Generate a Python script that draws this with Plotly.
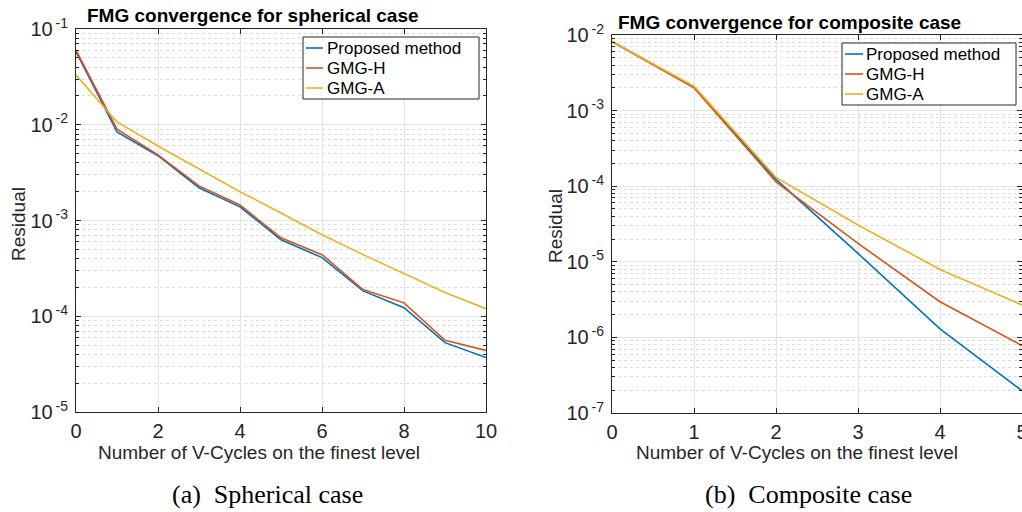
import plotly.graph_objects as go

# ---------------- data ----------------
cycles_sph = [0, 1, 2, 3, 4, 5, 6, 7, 8, 9, 10]
proposed_sph = [0.058, 8.4e-3, 4.75e-3, 2.2e-3, 1.39e-3, 6.3e-4, 4.1e-4, 1.84e-4, 1.23e-4, 5.3e-5, 3.7e-5]
gmgh_sph = [0.060, 9.0e-3, 4.85e-3, 2.3e-3, 1.45e-3, 6.6e-4, 4.4e-4, 1.9e-4, 1.38e-4, 5.6e-5, 4.4e-5]
gmga_sph = [0.033, 0.0107, 6.0e-3, 3.45e-3, 2.0e-3, 1.2e-3, 7.1e-4, 4.4e-4, 2.8e-4, 1.77e-4, 1.2e-4]

cycles_comp = [0, 1, 2, 3, 4, 5]
proposed_comp = [8.2e-3, 2.03e-3, 1.23e-4, 1.29e-5, 1.3e-6, 1.97e-7]
gmgh_comp = [8.2e-3, 2.0e-3, 1.14e-4, 1.75e-5, 2.96e-6, 7.8e-7]
gmga_comp = [8.2e-3, 2.1e-3, 1.31e-4, 3.07e-5, 7.9e-6, 2.69e-6]

series_names = ["Proposed method", "GMG-H", "GMG-A"]
colors = ["#0072BD", "#D95319", "#EDB120"]

xticks_sph = [0, 2, 4, 6, 8, 10]
xticks_comp = [0, 1, 2, 3, 4, 5]
exps_sph = [-5, -4, -3, -2, -1]
exps_comp = [-7, -6, -5, -4, -3, -2]

titles = ["FMG convergence for spherical case", "FMG convergence for composite case"]
captions = ["(a)\u00a0\u00a0Spherical case", "(b)\u00a0\u00a0Composite case"]
xlabel = "Number of V-Cycles on the finest level"
ylabel = "Residual"

# ---------------- figure ----------------
W, H = 1022, 512
TXT = "#262626"
FONT = "Liberation Sans, Arial, sans-serif"
SERIF = "Liberation Serif, Times New Roman, serif"

def px(x):
    return x / W

def py(y):
    return 1 - y / H

fig = go.Figure()

for name, col, ys in zip(series_names, colors, [proposed_sph, gmgh_sph, gmga_sph]):
    fig.add_trace(go.Scatter(x=cycles_sph, y=ys, mode="lines", name=name,
                             line=dict(color=col, width=1.6),
                             xaxis="x", yaxis="y", showlegend=False))
for name, col, ys in zip(series_names, colors, [proposed_comp, gmgh_comp, gmga_comp]):
    fig.add_trace(go.Scatter(x=cycles_comp, y=ys, mode="lines", name=name,
                             line=dict(color=col, width=1.6),
                             xaxis="x2", yaxis="y2", showlegend=False))

def minor_vals(exps):
    vals = []
    for e in exps[:-1]:
        for m in range(2, 10):
            vals.append(m * 10 ** e)
    return vals

def yaxis_cfg(exps, domain, anchor):
    return dict(
        type="log", domain=domain, anchor=anchor,
        range=[exps[0], exps[-1]],
        tickmode="array", tickvals=[10 ** e for e in exps],
        ticktext=["10<sup>\u2009%d</sup>" % e for e in exps],
        ticks="inside", ticklen=5, tickcolor=TXT,
        showline=True, linecolor=TXT, linewidth=1, mirror="ticks",
        showgrid=True, gridcolor="#e3e3e3", gridwidth=1,
        minor=dict(tickmode="array", tickvals=minor_vals(exps),
                   ticks="inside", ticklen=3, tickcolor=TXT,
                   showgrid=True, gridcolor="#dcdcdc", griddash="dot", gridwidth=1),
        tickfont=dict(family=FONT, size=20, color=TXT),
        ticklabelstandoff=3,
        ticklabeloverflow="allow",
        automargin=False,
        zeroline=False,
    )

def xaxis_cfg(rng, ticks, domain, anchor):
    return dict(
        domain=domain, anchor=anchor, range=rng,
        tickmode="array", tickvals=ticks, ticktext=[str(t) for t in ticks],
        ticks="inside", ticklen=5, tickcolor=TXT,
        showline=True, linecolor=TXT, linewidth=1, mirror="ticks",
        showgrid=True, gridcolor="#e3e3e3", gridwidth=1,
        tickfont=dict(family=FONT, size=20, color=TXT),
        ticklabelstandoff=1,
        ticklabeloverflow="allow",
        automargin=False,
        zeroline=False,
    )

fig.update_layout(
    width=W, height=H,
    margin=dict(l=0, r=0, t=0, b=0, autoexpand=False),
    paper_bgcolor="white", plot_bgcolor="white",
    font=dict(family=FONT, color=TXT),
    xaxis=xaxis_cfg([0, 10], xticks_sph, [px(76), px(486)], "y"),
    yaxis=yaxis_cfg(exps_sph, [py(412), py(29)], "x"),
    xaxis2=xaxis_cfg([0, 5], xticks_comp, [px(612), 1.0], "y2"),
    yaxis2=yaxis_cfg(exps_comp, [py(413), py(35)], "x2"),
    showlegend=False,
)

def ann(text, x, y, size, family=FONT, color=TXT, angle=0, xanchor="center"):
    return dict(text=text, x=px(x), y=py(y), xref="paper", yref="paper",
                xanchor=xanchor, yanchor="middle", textangle=angle,
                showarrow=False, font=dict(family=family, size=size, color=color))

annos = [
    ann("<b>%s</b>" % titles[0], 253, 15, 19, color="#000"),
    ann("<b>%s</b>" % titles[1], 789, 22, 19, color="#000"),
    ann(xlabel, 259, 452, 19),
    ann(xlabel, 797, 452, 19),
    ann(ylabel, 18, 224, 19, angle=-90),
    ann(ylabel, 555, 226, 19, angle=-90),
    ann(captions[0], 267, 494, 26, family=SERIF, color="#000"),
    ann(captions[1], 808, 494, 26, family=SERIF, color="#000"),
]

# legend boxes (drawn in figure pixels, MATLAB style)
shapes = []
legend_specs = [
    # box left, top, right, bottom, sample x0, x1, text x, row centers
    (303, 37, 479, 99, 306, 323, 325, [48, 68, 88]),
    (842, 43, 1016, 105, 845, 863, 864, [54, 74, 94]),
]
for (bx0, by0, bx1, by1, sx0, sx1, tx, rows) in legend_specs:
    shapes.append(dict(type="rect", xref="paper", yref="paper",
                       x0=px(bx0), x1=px(bx1), y0=py(by1), y1=py(by0),
                       line=dict(color="#262626", width=1), fillcolor="white", layer="above"))
    for name, col, ry in zip(series_names, colors, rows):
        shapes.append(dict(type="line", xref="paper", yref="paper",
                           x0=px(sx0), x1=px(sx1), y0=py(ry), y1=py(ry),
                           line=dict(color=col, width=1.6), layer="above"))
        annos.append(ann(name, tx, ry, 17, color="#000", xanchor="left"))

fig.update_layout(annotations=annos, shapes=shapes)

fig.write_html("out.html", config={"displayModeBar": False},
               post_script="document.body.style.margin='0px';document.body.style.overflow='hidden';")
